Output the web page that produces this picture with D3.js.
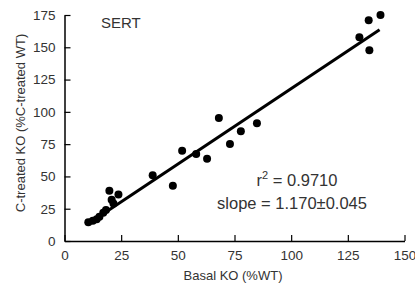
<!DOCTYPE html>
<html>
<head>
<meta charset="utf-8">
<script src="https://cdn.jsdelivr.net/npm/d3@7"></script>
<style>
  body { margin: 0; background: #fff; }
  text { font-family: "Liberation Sans", Arial, sans-serif; fill: #333; }
</style>
</head>
<body>
<svg width="415" height="289"></svg>
<script>
// basal KO (%WT) vs C-treated KO (%C-treated WT)
const basal   = [10.5, 12.5, 14.2, 15.4, 17.1, 18.3, 19.8, 20.8, 21.6, 23.8,
                 38.9, 47.8, 51.9, 58.1, 62.9, 68.1, 73.0, 77.8, 84.9,
                 130.1, 134.5, 134.2, 139.4];
const treated = [14.5, 15.7, 16.8, 18.8, 21.9, 24.0, 39.0, 32.0, 29.0, 36.0,
                 51.0, 42.8, 69.9, 67.3, 63.7, 95.2, 75.1, 84.9, 91.1,
                 157.7, 147.8, 171.0, 175.0];
const fitX = [10, 139];
const fitY = [12.7, 163.6];
const xTicks = [0, 25, 50, 75, 100, 125, 150];
const yTicks = [0, 25, 50, 75, 100, 125, 150, 175];

const svg = d3.select('svg');

const x = d3.scaleLinear().domain([0, 150]).range([64.5, 404.5]);
const y = d3.scaleLinear().domain([0, 175]).range([241, 15]);

// x axis, ticks pointing inward
const gx = svg.append("g")
  .attr("transform", "translate(0,241)")
  .call(d3.axisBottom(x).tickValues(xTicks).tickSizeInner(-6).tickSizeOuter(0).tickPadding(9));
const gy = svg.append("g")
  .attr("transform", "translate(64.5,0)")
  .call(d3.axisLeft(y).tickValues(yTicks).tickSizeInner(-6).tickSizeOuter(0).tickPadding(9));

[gx, gy].forEach(g => {
  g.select(".domain").attr("stroke", "#000").attr("stroke-width", 1.5);
  g.selectAll(".tick line").attr("stroke", "#000").attr("stroke-width", 1.2);
  g.selectAll(".tick text")
    .style("font-family", '"Liberation Sans", Arial, sans-serif')
    .style("font-size", "13.5px").attr("fill", "#333");
});

// regression line
svg.append("line")
  .attr("x1", x(fitX[0])).attr("y1", y(fitY[0]))
  .attr("x2", x(fitX[1])).attr("y2", y(fitY[1]))
  .attr("stroke", "#000").attr("stroke-width", 3);

// dots
svg.append('g')
  .selectAll("circle")
  .data(basal.map((b, i) => [b, treated[i]]))
  .join("circle")
    .attr("cx", d => x(d[0]))
    .attr("cy", d => y(d[1]))
    .attr("r", 4)
    .style("fill", "#000");

// labels
svg.append("text").attr("x", 101).attr("y", 28)
  .style("font-size", "15px").text("SERT");

const r2 = svg.append("text").attr("x", 297).attr("y", 186)
  .attr("text-anchor", "middle").style("font-size", "16.5px");
r2.append("tspan").text("r");
r2.append("tspan").attr("dy", -7).style("font-size", "11px").text("2");
r2.append("tspan").attr("dy", 7).text(" = 0.9710");

svg.append("text").attr("x", 292).attr("y", 209)
  .attr("text-anchor", "middle")
  .style("font-size", "16.5px").text("slope = 1.170\u00b10.045");

svg.append("text").attr("x", 233).attr("y", 280)
  .attr("text-anchor", "middle").style("font-size", "13px").text("Basal KO (%WT)");

svg.append("text")
  .attr("transform", "translate(25,123) rotate(-90)")
  .attr("text-anchor", "middle").style("font-size", "13px")
  .text("C-treated KO (%C-treated WT)");
</script>
</body>
</html>
